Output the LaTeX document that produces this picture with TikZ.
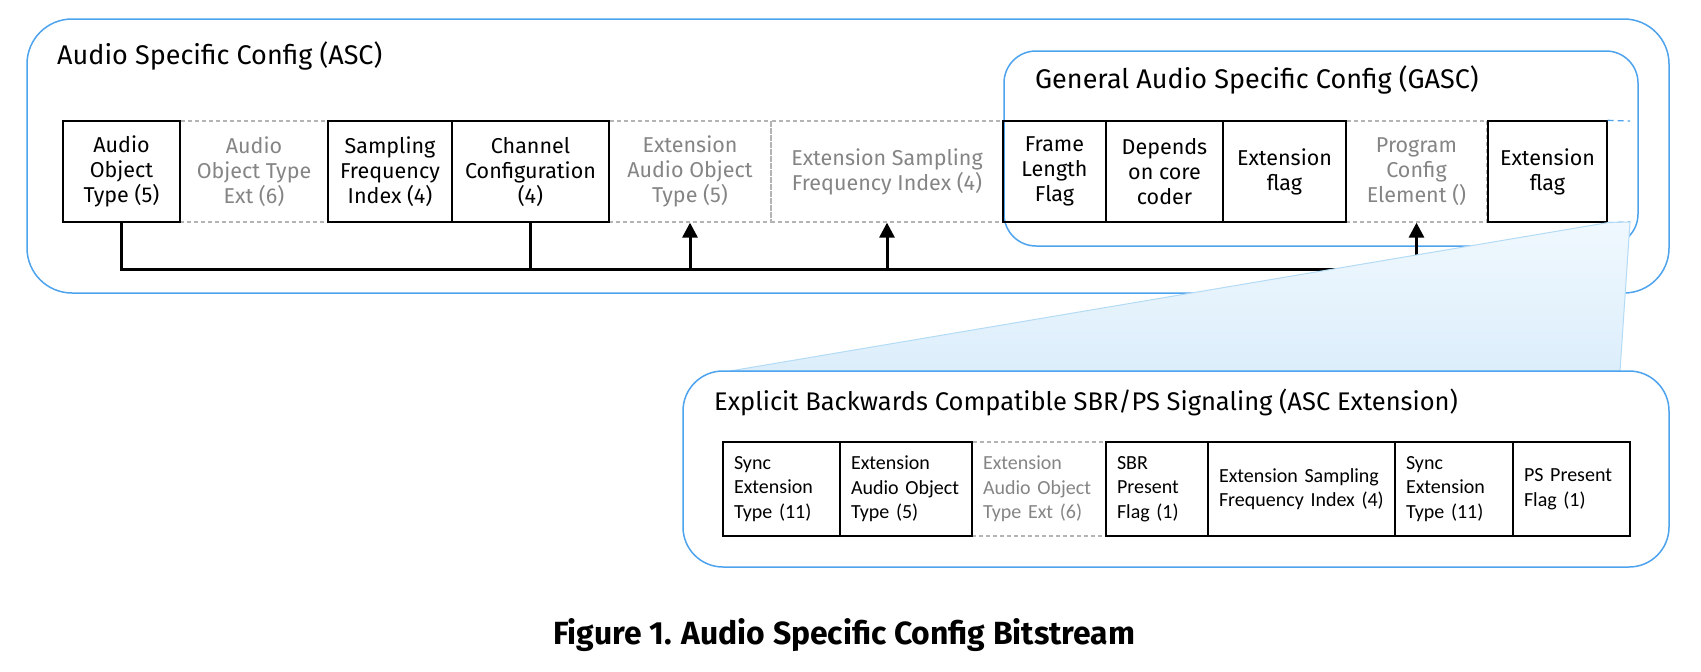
\documentclass[tikz,border=0pt]{standalone}
\usepackage{fontspec}
\usepackage{graphicx}
\setmainfont{Fira Sans}
\newfontfamily\calfont{Carlito}
\usetikzlibrary{arrows.meta}
\definecolor{bblue}{HTML}{4DA3EE}
\definecolor{ggrey}{HTML}{858585}
\definecolor{dgrey}{HTML}{B4B4B4}
\definecolor{tfillT}{HTML}{F0F8FE}
\definecolor{tfillB}{HTML}{DCEEFB}
\definecolor{tedge}{HTML}{B3DBF5}
\tikzset{
  container/.style={draw=bblue, line width=1.5pt, fill=white},
  title/.style={anchor=base west, inner sep=0pt, font=\fontsize{27}{30}\selectfont},
  ubox/.style={draw=black, line width=1.3pt, minimum height=101pt, inner sep=0pt, align=center, font=\fontsize{21.5}{25}\selectfont},
  udash/.style={ubox, draw=dgrey, dash pattern=on 4pt off 3pt, text=ggrey},
  lbox/.style={draw=black, line width=1.3pt, minimum height=94pt, inner xsep=11pt, inner ysep=0pt, align=left, font=\calfont\fontsize{20}{24.5}\selectfont},
  ldash/.style={lbox, draw=dgrey, dash pattern=on 4pt off 3pt, text=ggrey},
  bus/.style={draw=black, line width=3pt},
  up/.style={bus, -{Triangle[width=15pt,length=15pt]}},
  stub/.style={draw=bblue, line width=1.3pt, dash pattern=on 6pt off 4pt}
}
\begin{document}
\begin{tikzpicture}[x=1pt,y=-1pt]
\useasboundingbox (0,0) rectangle (1701,672);
% ASC container
\draw[container, rounded corners=45pt] (27,19) rectangle (1669,293);
\node[title] (tasc) at (57,64) {Audio Specific Config (ASC)};
% GASC container
\draw[container, rounded corners=32pt] (1004,51) rectangle (1638,246);
\node[title] (tgasc) at (1035,88) {General Audio Specific Config (GASC)};
% upper row
\node[udash, minimum width=148pt] (b2) at (254,171.5) {Audio\\Object Type\\Ext (6)};
\node[udash, minimum width=162pt] (b5) at (690,171.5) {Extension\\Audio Object\\Type (5)};
\node[udash, minimum width=232pt] (b6) at (887,171.5) {Extension Sampling\\Frequency Index (4)};
\node[udash, minimum width=141pt] (b10) at (1416.5,171.5) {Program\\Config\\Element ()};
\node[ubox, minimum width=117pt] (b1) at (121.5,171.5) {Audio\\Object\\Type (5)};
\node[ubox, minimum width=124pt] (b3) at (390,171.5) {Sampling\\Frequency\\Index (4)};
\node[ubox, minimum width=157pt] (b4) at (530.5,171.5) {Channel\\Configuration\\(4)};
\node[ubox, minimum width=103pt] (b7) at (1054.5,171.5) {Frame\\Length\\Flag};
\node[ubox, minimum width=117pt] (b8) at (1164.5,171.5) {Depends\\on core\\coder};
\node[ubox, minimum width=123pt] (b9) at (1284.5,171.5) {Extension\\flag};
\node[ubox, minimum width=119pt] (b11) at (1547.5,171.5) {Extension\\flag};
% dashed blue stubs
\coordinate (stubT) at (1630,121);
\coordinate (stubB) at (1630,222);
\draw[stub] (b11.north east) -- (stubT);
\draw[stub] (b11.south east) -- (stubB);
% bus
\coordinate (busy) at (0,269);
\draw[bus] (b1.south) -- (b1.south |- busy) -- (b10.south |- busy);
\draw[bus] (b4.south) -- (b4.south |- busy);
\draw[up] (b5.south |- busy) -- (b5.south);
\draw[up] (b6.south |- busy) -- (b6.south);
\draw[up] (b10.south |- busy) -- (b10.south);
% zoom trapezoid
\coordinate (trBR) at (1620,371);
\coordinate (trBL) at (730,371);
\shade[top color=tfillT, bottom color=tfillB, draw=tedge, line width=1pt]
  (b11.south east) -- (stubB) -- (trBR) -- (trBL) -- cycle;
% ESBR container
\draw[container, rounded corners=40pt] (683,371) rectangle (1669,567);
\node[title, font=\fontsize{25.5}{30}\selectfont] (tesbr) at (714,410) {Explicit Backwards Compatible SBR/PS Signaling (ASC Extension)};
% lower row
\node[ldash, text width=112pt] (c) at (1039,489) {Extension\\Audio Object\\Type Ext (6)};
\node[lbox, text width=95pt] (a) at (781.5,489) {Sync\\Extension\\Type (11)};
\node[lbox, text width=110pt] (b) at (906,489) {Extension\\Audio Object\\Type (5)};
\node[lbox, text width=80pt] (d) at (1157,489) {SBR\\Present\\Flag (1)};
\node[lbox, text width=165pt] (e) at (1301.5,489) {Extension Sampling\\Frequency Index (4)};
\node[lbox, text width=96pt] (f) at (1454,489) {Sync\\Extension\\Type (11)};
\node[lbox, text width=95pt] (g) at (1571.5,489) {PS Present\\Flag (1)};
% caption
\node[anchor=base west, inner sep=0pt] (cap) at (553,644) {\resizebox{582pt}{26pt}{\fontsize{30}{34}\selectfont\bfseries Figure 1. Audio Specific Config Bitstream}};
\end{tikzpicture}
\end{document}
